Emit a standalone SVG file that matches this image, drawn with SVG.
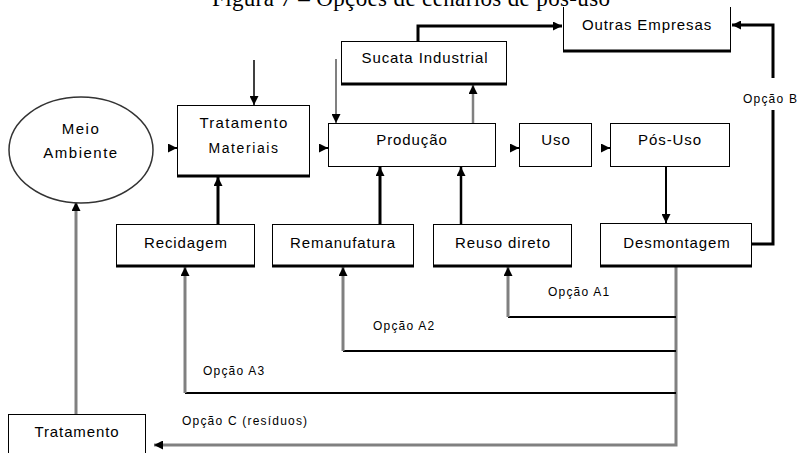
<svg xmlns="http://www.w3.org/2000/svg" width="801" height="453" viewBox="0 0 801 453">
<defs>
<marker id="ah" markerUnits="userSpaceOnUse" markerWidth="9" markerHeight="9" refX="8" refY="4" orient="auto" viewBox="0 0 8 8">
<path d="M0,0 L8,4 L0,8 z" fill="#000"/>
</marker>
</defs>
<style>
.box{fill:#fff;stroke:#000;stroke-width:1}
.bot{stroke:#000;stroke-width:3;fill:none}
.t{font-family:"Liberation Sans",Arial,sans-serif;font-size:15px;letter-spacing:0.9px;fill:#000;text-anchor:middle}
.lab{font-family:"Liberation Sans",Arial,sans-serif;font-size:12px;letter-spacing:1.2px;fill:#000}
.blk{stroke:#000;fill:none}
.gry{stroke:#808080;fill:none}
</style>
<rect width="801" height="453" fill="#fff"/>
<text x="212" y="6" font-family="'Liberation Serif','Times New Roman',serif" font-size="23" textLength="398" fill="#000">Figura 7 – Opções de cenários de pós-uso</text>

<g id="connectors">
<path class="blk" stroke-width="3" d="M418,42 V26 H562" marker-end="url(#ah)"/>
<path class="blk" stroke-width="3" d="M773,78 V25 H732" marker-end="url(#ah)"/>
<path class="blk" stroke-width="3" d="M752,244 H773 V110"/>
<path class="blk" stroke-width="1.5" d="M254,60 V105" marker-end="url(#ah)"/>
<path class="gry" stroke-width="2" d="M336,59 V123" marker-end="url(#ah)"/>
<path class="gry" stroke-width="2.5" d="M473,123 V85" marker-end="url(#ah)"/>
<path class="blk" stroke-width="2" d="M170,148 H177" marker-end="url(#ah)"/>
<path class="blk" stroke-width="2" d="M321,148 H328" marker-end="url(#ah)"/>
<path class="blk" stroke-width="2" d="M512,148 H519" marker-end="url(#ah)"/>
<path class="blk" stroke-width="2" d="M603,148 H610" marker-end="url(#ah)"/>
<path class="blk" stroke-width="2" d="M666,167 V223" marker-end="url(#ah)"/>
<path class="blk" stroke-width="3" d="M218,224 V177" marker-end="url(#ah)"/>
<path class="blk" stroke-width="3" d="M380,224 V167" marker-end="url(#ah)"/>
<path class="blk" stroke-width="2.5" d="M461,224 V167" marker-end="url(#ah)"/>
<path class="gry" stroke-width="3" d="M76,414 V202" marker-end="url(#ah)"/>
<path class="gry" stroke-width="3" d="M676,267 V445 H154" marker-end="url(#ah)"/>
<path class="blk" stroke-width="2" d="M676,317 H508"/>
<path class="gry" stroke-width="3" d="M508,317 V267" marker-end="url(#ah)"/>
<path class="blk" stroke-width="2" d="M676,351 H343"/>
<path class="gry" stroke-width="3" d="M343,351 V267" marker-end="url(#ah)"/>
<path class="blk" stroke-width="2" d="M676,393 H185"/>
<path class="gry" stroke-width="3" d="M185,393 V267" marker-end="url(#ah)"/>
</g>

<g id="outras">
<path d="M563.5,7 V50.5 H730.5 V7" fill="#fff" stroke="#000" stroke-width="1"/>
<path class="bot" stroke-width="2" d="M563,51 H731"/>
<text class="t" x="647" y="30">Outras Empresas</text>
</g>
<g id="sucata">
<rect class="box" x="341.5" y="41.5" width="165" height="42"/>
<path class="bot" d="M341,84 H507"/>
<text class="t" x="425" y="63">Sucata Industrial</text>
</g>
<g id="meio">
<ellipse cx="81" cy="150" rx="72" ry="53" fill="#fff" stroke="#333" stroke-width="1.5"/>
<text class="t" x="81" y="134" style="letter-spacing:1.5px">Meio</text>
<text class="t" x="81" y="158" style="letter-spacing:1.5px">Ambiente</text>
</g>
<g id="tratmat">
<rect class="box" x="177.5" y="105.5" width="132" height="70"/>
<path class="bot" d="M177,176 H310"/>
<text class="t" x="244" y="128" style="letter-spacing:1.3px">Tratamento</text>
<text class="t" x="244" y="153" style="font-size:14px;letter-spacing:1.6px">Materiais</text>
</g>
<g id="producao">
<rect class="box" x="328.5" y="123.5" width="167" height="43"/>
<text class="t" x="412" y="145">Produção</text>
</g>
<g id="uso">
<rect class="box" x="519.5" y="123.5" width="72" height="43"/>
<text class="t" x="556" y="145">Uso</text>
</g>
<g id="posuso">
<rect class="box" x="610.5" y="123.5" width="119" height="43"/>
<text class="t" x="670" y="145">Pós-Uso</text>
</g>
<g id="recidagem">
<rect class="box" x="116.5" y="224.5" width="138" height="41"/>
<path class="bot" d="M116,266 H255"/>
<text class="t" x="186" y="248">Recidagem</text>
</g>
<g id="remanufatura">
<rect class="box" x="272.5" y="224.5" width="141" height="41"/>
<path class="bot" d="M272,266 H414"/>
<text class="t" x="343" y="248">Remanufatura</text>
</g>
<g id="reuso">
<rect class="box" x="433.5" y="224.5" width="138" height="41"/>
<path class="bot" d="M433,266 H572"/>
<text class="t" x="503" y="248">Reuso direto</text>
</g>
<g id="desmontagem">
<rect class="box" x="600.5" y="223.5" width="151" height="42"/>
<path class="bot" d="M600,266 H752"/>
<text class="t" x="677" y="248">Desmontagem</text>
</g>
<g id="tratamento">
<rect class="box" x="8.5" y="414.5" width="137" height="50"/>
<text class="t" x="77" y="437">Tratamento</text>
</g>

<g id="labels">
<text class="lab" x="743" y="103">Opção B</text>
<text class="lab" x="548" y="296">Opção A1</text>
<text class="lab" x="373" y="330">Opção A2</text>
<text class="lab" x="203" y="375">Opção A3</text>
<text class="lab" x="182" y="425">Opção C (resíduos)</text>
</g>
</svg>
